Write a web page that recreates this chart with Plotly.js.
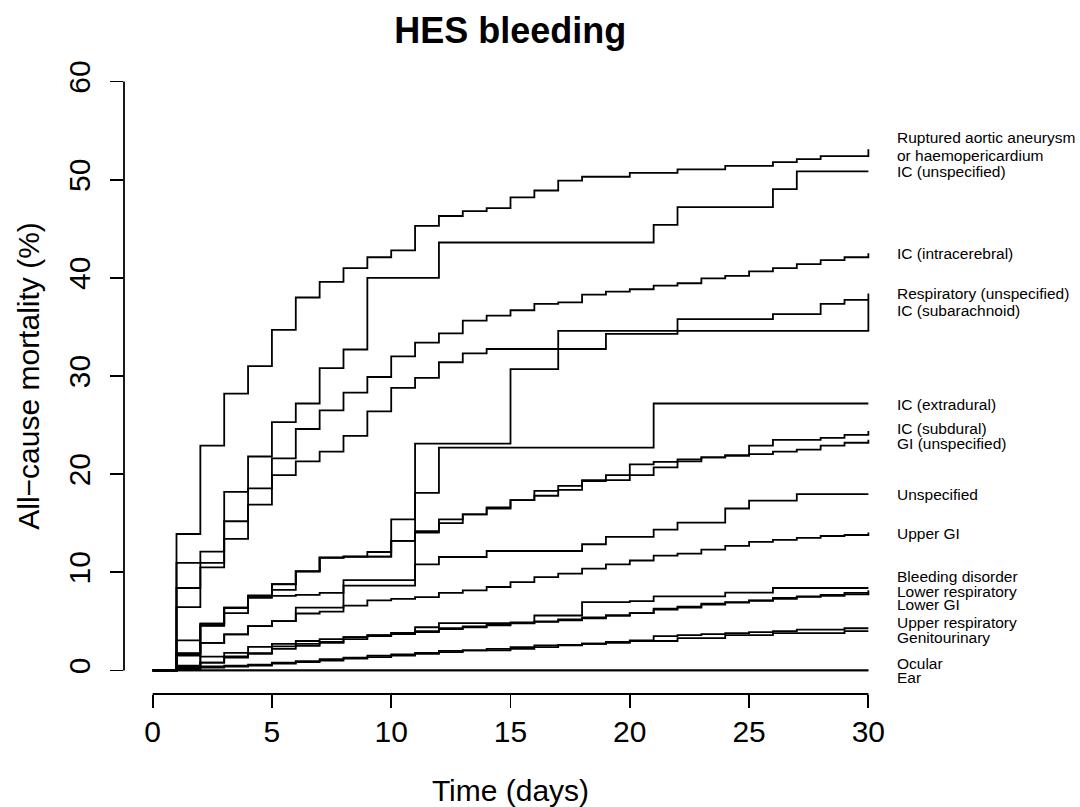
<!DOCTYPE html>
<html>
<head>
<meta charset="utf-8">
<script src="https://cdn.plot.ly/plotly-3.0.1.min.js"></script>
<style>
  html, body { margin: 0; padding: 0; background: #ffffff; }
  #chart { width: 1080px; height: 807px; }
</style>
</head>
<body>
<div id="chart"></div>
<script>
// Days since admission
const days = [0,1,2,3,4,5,6,7,8,9,10,11,12,13,14,15,16,17,18,19,20,21,22,23,24,25,26,27,28,29,30];

// Cumulative all-cause mortality (%) by bleeding site, one value per day
const ruptured = [0,13.9,22.9,28.2,31.0,34.7,38.0,39.6,41.0,42.1,42.8,45.3,46.3,46.8,47.1,48.2,48.9,49.9,50.3,50.3,50.7,50.7,51.05,51.05,51.4,51.4,51.8,52.1,52.4,52.4,53.1];
const icUnspecified = [0,10.95,12.1,18.2,21.8,25.3,27.2,30.8,32.7,40.0,40.0,40.0,43.6,43.6,43.6,43.6,43.6,43.6,43.6,43.6,43.6,45.4,47.2,47.2,47.2,47.2,49.05,50.85,50.85,50.85,50.85];
const icIntracerebral = [0,8.4,10.95,15.2,18.55,21.6,24.6,26.5,28.3,29.9,32.0,33.4,34.35,35.65,36.15,36.7,37.35,37.5,38.3,38.6,38.84,39.2,39.45,39.95,40.2,40.65,41.0,41.4,41.8,42.1,42.5];
const respiratoryUnspecified = [0,3.06,4.76,6.4,7.6,7.6,7.7,7.9,9.2,9.2,9.2,23.1,23.1,23.1,23.1,30.7,30.7,34.6,34.6,34.6,34.6,34.6,34.6,34.6,34.6,34.6,34.6,34.6,34.6,34.6,38.4];
const icSubarachnoid = [0,6.46,10.5,13.4,16.9,19.9,21.3,22.3,23.9,26.4,28.8,29.8,31.4,32.3,32.75,32.75,32.75,32.75,32.75,34.3,34.3,34.3,35.8,35.8,35.8,35.8,36.3,36.3,37.35,37.76,37.76];
const icExtradural = [0,1.7,4.6,6.4,7.6,8.8,10.1,11.5,11.6,12.07,15.4,18.1,22.7,22.7,22.7,22.7,22.7,22.7,22.7,22.7,22.7,27.2,27.2,27.2,27.2,27.2,27.2,27.2,27.2,27.2,27.2];
const icSubdural = [0,1.77,4.76,6.36,7.65,8.78,10.1,11.5,11.6,11.6,13.2,14.2,15.4,15.9,16.6,17.35,18.3,18.8,19.4,19.9,21.0,21.25,21.5,21.7,21.9,22.9,23.5,23.5,23.7,24.0,24.4];
const giUnspecified = [0,1.63,4.55,5.85,7.4,8.2,10.1,11.5,11.6,11.6,13.2,14.05,15.0,15.9,16.5,17.35,17.8,18.4,19.3,19.4,19.9,20.7,21.3,21.7,21.9,22.04,22.3,22.5,22.9,23.2,23.5];
const unspecified = [0,0.5,2.8,3.67,4.52,5.03,6.4,6.4,8.64,8.64,8.64,10.8,11.56,11.56,12.17,12.17,12.17,12.17,12.86,13.6,13.6,14.35,15.07,15.07,16.5,17.3,17.3,17.96,17.96,17.96,17.96];
const upperGI = [0,1.5,2.8,3.67,4.52,5.03,5.8,6.0,6.6,7.14,7.3,7.48,7.9,8.16,8.5,9.0,9.5,9.86,10.37,10.8,11.2,11.7,11.9,12.3,12.7,13.1,13.3,13.5,13.7,13.8,14.05];
const bleedingDisorder = [0,0.4,1.4,1.8,2.4,2.7,3.0,3.2,3.4,3.6,3.83,4.4,4.83,4.83,4.83,4.83,5.6,5.6,6.97,6.97,7.07,7.55,7.55,7.55,7.93,7.93,8.4,8.4,8.4,8.4,8.4];
const lowerRespiratory = [0,0.3,0.8,1.43,1.77,2.45,2.7,2.9,3.4,3.57,3.83,4.0,4.3,4.5,4.7,4.9,5.0,5.2,5.4,5.6,5.85,6.3,6.5,6.8,6.97,7.14,7.4,7.55,7.7,7.9,8.16];
const lowerGI = [0,0.3,0.8,1.3,1.7,2.2,2.5,2.8,3.2,3.5,3.7,3.9,4.2,4.4,4.6,4.8,4.95,5.1,5.3,5.6,5.85,6.2,6.4,6.7,6.9,7.1,7.3,7.5,7.6,7.75,7.9];
const upperRespiratory = [0,0.2,0.4,0.5,0.6,0.8,0.95,1.15,1.3,1.5,1.63,1.8,2.0,2.04,2.2,2.38,2.55,2.6,2.72,2.9,3.06,3.5,3.6,3.7,3.8,3.9,4.0,4.15,4.15,4.3,4.3];
const genitourinary = [0,0.1,0.3,0.4,0.5,0.7,0.85,1.0,1.2,1.36,1.5,1.7,1.87,2.04,2.04,2.2,2.38,2.55,2.72,2.8,3.0,3.0,3.3,3.3,3.6,3.6,3.8,3.8,3.8,4.0,4.0];
const ocular = [0,0,0,0,0,0,0,0,0,0,0,0,0,0,0,0,0,0,0,0,0,0,0,0,0,0,0,0,0,0,0];
const ear = [0,0,0,0,0,0,0,0,0,0,0,0,0,0,0,0,0,0,0,0,0,0,0,0,0,0,0,0,0,0,0];

const seriesList = [ruptured, icUnspecified, icIntracerebral, respiratoryUnspecified, icSubarachnoid,
  icExtradural, icSubdural, giUnspecified, unspecified, upperGI, bleedingDisorder,
  lowerRespiratory, lowerGI, upperRespiratory, genitourinary, ocular, ear];

// End-of-line labels, top to bottom
const labelText = ["Ruptured aortic aneurysm", "or haemopericardium", "IC (unspecified)", "IC (intracerebral)",
  "Respiratory (unspecified)", "IC (subarachnoid)", "IC (extradural)", "IC (subdural)", "GI (unspecified)",
  "Unspecified", "Upper GI", "Bleeding disorder", "Lower respiratory", "Lower GI",
  "Upper respiratory", "Genitourinary", "Ocular", "Ear"];
// Label centres in axis units (spread apart so they do not collide)
const labelY = [54.29, 52.45, 50.82, 42.45, 38.37, 36.63, 27.14, 24.69, 23.16, 17.96, 13.98,
  9.59, 8.06, 6.73, 4.9, 3.37, 0.71, -0.71];

const xTicks = [0, 5, 10, 15, 20, 25, 30];
const yTicks = [0, 10, 20, 30, 40, 50, 60];

const FONT = "Liberation Sans, Arial, Helvetica, sans-serif";
const INK = "#000000";

const traces = seriesList.map(vals => ({
  x: days,
  y: vals,
  type: "scatter",
  mode: "lines",
  line: { shape: "hv", color: INK, width: 1.8 },
  hoverinfo: "skip",
  showlegend: false
}));

const annotations = labelText.map((t, i) => ({
  xref: "paper", x: 1, xanchor: "left", xshift: -2,
  yref: "y", y: labelY[i], yanchor: "middle",
  text: t, showarrow: false,
  font: { family: FONT, size: 15.5, color: INK }
}));

const layout = {
  width: 1080,
  height: 807,
  margin: { l: 124, r: 183, t: 58, b: 113, pad: 0 },
  paper_bgcolor: "#ffffff",
  plot_bgcolor: "#ffffff",
  font: { family: FONT, color: INK },
  title: {
    text: "<b>HES bleeding</b>",
    font: { family: FONT, size: 36, color: INK },
    x: 0.4725, xanchor: "center",
    y: 0.962, yanchor: "middle"
  },
  xaxis: {
    range: [-1.2, 31.2],
    tickvals: xTicks,
    ticktext: xTicks.map(String),
    ticks: "outside", ticklen: 13, tickwidth: 1.8, tickcolor: INK,
    ticklabelstandoff: -2,
    tickfont: { family: FONT, size: 30, color: INK },
    showgrid: false, zeroline: false, showline: false,
    title: { text: "Time (days)", font: { family: FONT, size: 30, color: INK }, standoff: 32 }
  },
  yaxis: {
    range: [-2.4, 62.4],
    tickvals: yTicks,
    ticktext: yTicks.map(String),
    tickangle: -90,
    ticks: "outside", ticklen: 13, tickwidth: 1.8, tickcolor: INK,
    ticklabelstandoff: 8,
    tickfont: { family: FONT, size: 30, color: INK },
    showgrid: false, zeroline: false, showline: false,
    title: { text: "All\u2212cause mortality (%)", font: { family: FONT, size: 30, color: INK }, standoff: 14 }
  },
  shapes: [
    // bottom axis line spans the 0-30 day range only
    { type: "line", xref: "x", yref: "paper", x0: 0, x1: 30, y0: 0, y1: 0, line: { color: INK, width: 1.8 } },
    // left axis line spans 0-60 %
    { type: "line", xref: "paper", yref: "y", x0: 0, x1: 0, y0: 0, y1: 60, line: { color: INK, width: 1.8 } }
  ],
  annotations: annotations
};

Plotly.newPlot("chart", traces, layout, { displayModeBar: false, staticPlot: true });
</script>
</body>
</html>
